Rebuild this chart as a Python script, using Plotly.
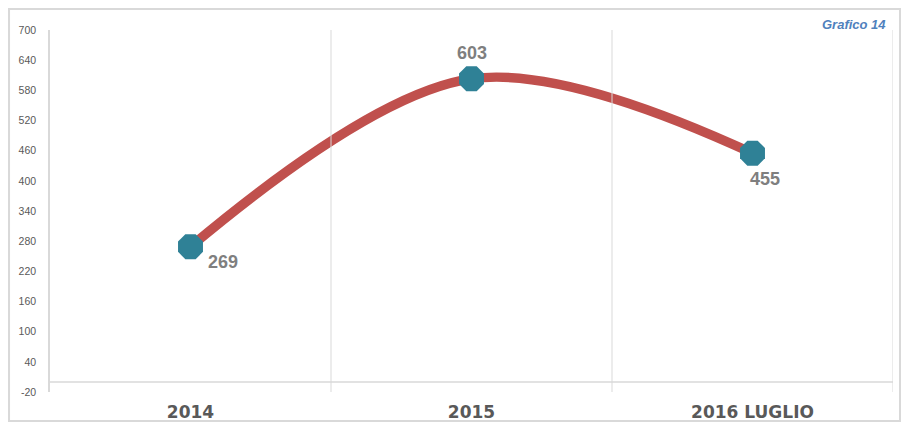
import plotly.graph_objects as go

categories = ["2014", "2015", "2016 LUGLIO"]
values = [269, 603, 455]
y_ticks = [-20, 40, 100, 160, 220, 280, 340, 400, 460, 520, 580, 640, 700]
chart_title = "Grafico 14"

xpos = list(range(len(categories)))

fig = go.Figure()
fig.add_trace(go.Scatter(
    x=xpos, y=values, mode="lines+markers",
    line=dict(color="#c0504d", width=9.5, shape="spline", smoothing=1.0),
    marker=dict(symbol="octagon", size=27, color="#2f8196", line=dict(width=0)),
    hoverinfo="skip", showlegend=False,
))

# data labels
label_shift = [(32, -15), (0, 26), (12, -26)]
for x, v, (dx, dy) in zip(xpos, values, label_shift):
    fig.add_annotation(x=x, y=v, text=str(v), showarrow=False,
                       xshift=dx, yshift=dy,
                       font=dict(family="Liberation Sans", size=18, color="#7f7f7f", weight="bold"))

shapes = []
# category separators
for i in range(len(categories)):
    shapes.append(dict(type="line", xref="x", yref="y", x0=i + 0.5, x1=i + 0.5,
                       y0=-20, y1=700, line=dict(color="#d9d9d9", width=1)))
# horizontal axis at 0
shapes.append(dict(type="line", xref="x", yref="y", x0=-0.5, x1=len(categories) - 0.5,
                   y0=0, y1=0, line=dict(color="#d9d9d9", width=1.5)))
# outer border
shapes.append(dict(type="rect", xref="paper", yref="paper",
                   x0=-0.0486, x1=1.0083, y0=-0.0801, y1=1.058,
                   line=dict(color="#d9d9d9", width=2), fillcolor="rgba(0,0,0,0)", layer="below"))

fig.add_annotation(xref="paper", yref="paper", x=0.994, y=1.015, xanchor="right", yanchor="middle",
                   text="<i>" + chart_title + "</i>", showarrow=False,
                   font=dict(family="Liberation Sans", size=13, color="#4f81bd", weight="bold"))

fig.update_layout(
    width=893, height=414,
    margin=dict(l=42, r=8, t=22, b=30, autoexpand=False),
    paper_bgcolor="white", plot_bgcolor="white",
    shapes=shapes,
    xaxis=dict(range=[-0.5, len(categories) - 0.5], tickvals=xpos, ticktext=categories,
               showgrid=False, zeroline=False, showline=False, ticks="",
               ticklabelstandoff=8, automargin=False,
               tickfont=dict(family="DejaVu Sans", size=17, color="#595959", weight="bold")),
    yaxis=dict(range=[-20, 700], tickvals=y_ticks, ticktext=[str(v) for v in y_ticks],
               showgrid=False, zeroline=False, automargin=False,
               showline=True, linecolor="#d9d9d9", linewidth=1.5, ticks="",
               ticklabelstandoff=10,
               tickfont=dict(family="Liberation Sans", size=10.5, color="#595959")),
)

fig.write_html("out.html")
